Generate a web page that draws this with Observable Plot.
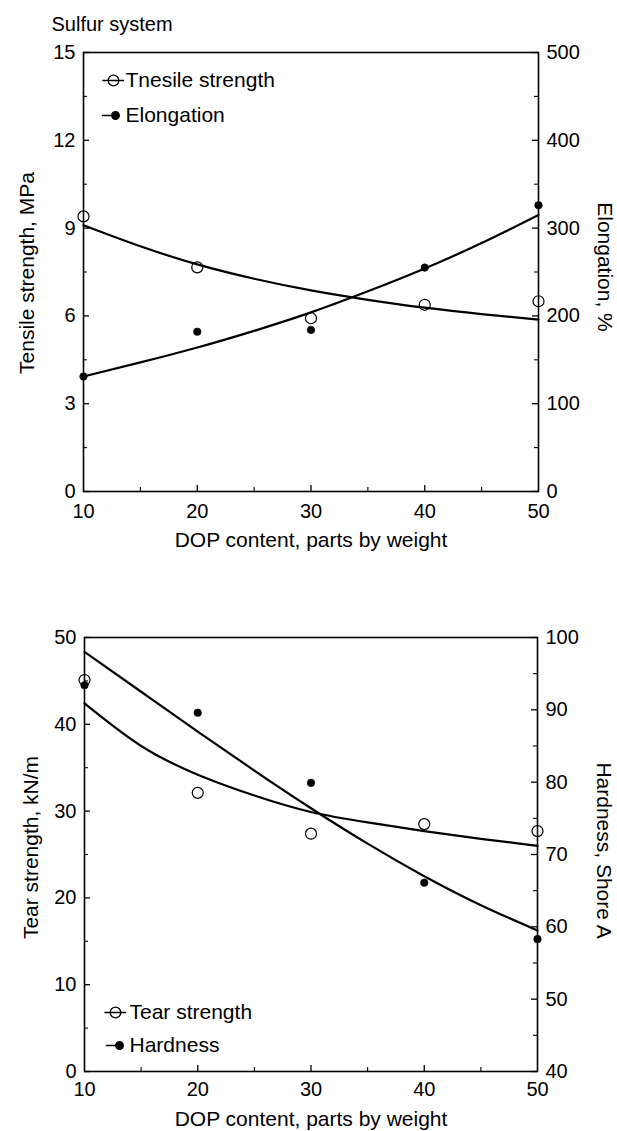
<!DOCTYPE html>
<html><head><meta charset="utf-8">
<script src="https://cdn.jsdelivr.net/npm/d3@7"></script>
<script src="https://cdn.jsdelivr.net/npm/@observablehq/plot@0.6"></script>
<style>body{margin:0;background:#fff}#c svg{display:block}</style>
</head><body><div id="c"></div>
<script>
// ---- data ----
const dop = [10, 20, 30, 40, 50];
const fitX = [10, 15, 20, 25, 30, 35, 40, 45, 50];
// top panel (Sulfur system)
const tensile = [9.4, 7.66, 5.92, 6.38, 6.50];          // MPa
const elongation = [131, 182, 184, 255, 326];           // %
const tensileFit = [9.1, 8.38, 7.76, 7.27, 6.87, 6.55, 6.28, 6.06, 5.87];
const elongationFit = [131, 147, 164, 183, 204, 228, 254, 283, 315];
// bottom panel
const tear = [45.1, 32.1, 27.4, 28.5, 27.7];            // kN/m
const hardness = [93.4, 89.6, 79.9, 66.1, 58.3];        // Shore A
const tearFit = [42.4, 37.5, 34.2, 31.8, 29.9, 28.7, 27.7, 26.8, 26.0];
const hardnessFit = [98.0, 92.5, 87.0, 81.6, 76.4, 71.5, 67.0, 63.0, 59.5];
// ticks
const xTicks = [10, 20, 30, 40, 50];
const xMinor = [15, 25, 35, 45];
const tensileTicks = [0, 3, 6, 9, 12, 15];
const tensileMinor = [1.5, 4.5, 7.5, 10.5, 13.5];
const elongTicks = [0, 100, 200, 300, 400, 500];
const elongMinor = [50, 150, 250, 350, 450];
const tearTicks = [0, 10, 20, 30, 40, 50];
const tearMinor = [5, 15, 25, 35, 45];
const hardTicks = [40, 50, 60, 70, 80, 90, 100];
const hardMinor = [45, 55, 65, 75, 85, 95];
// texts
const titleTop = "Sulfur system";
const legendTop = ["Tnesile strength", "Elongation"];
const legendBottom = ["Tear strength", "Hardness"];
const xLabel = "DOP content, parts by weight";

const FONT = "'Liberation Sans', Arial, Helvetica, sans-serif";
const W = 617;

const openSym = {draw(ctx, size) {
  const r = Math.sqrt(size / Math.PI);
  ctx.moveTo(-2.1 * r, 0); ctx.lineTo(2.0 * r, 0);
  ctx.moveTo(r, 0); ctx.arc(0, 0, r, 0, 2 * Math.PI);
}};
const fillSym = {draw(ctx, size) {
  const r = Math.sqrt(size / Math.PI);
  ctx.moveTo(-3.6 * r, 0); ctx.lineTo(r, 0);
  ctx.moveTo(r, 0); ctx.arc(0, 0, r, 0, 2 * Math.PI);
}};

function panel({height, mt, mb, ml, mr, yDomain, leftTicks, leftMinor, rightTicks, rightMinor, toLeft, fromLeft,
                open, filled, openFit, filledFit, yLabel, rLabel, legend, legendTopSide, title,
                yLabelDx, yLabelDy, rLabelDy, xLabelDy, xPad}) {
  const fw = W - ml - mr;
  const fh = height - mt - mb;
  const la = legendTopSide ? "top-left" : "bottom-left";
  const marks = [
    Plot.frame({stroke: "black", strokeWidth: 1.6}),
    // inward ticks
    Plot.tickY(leftTicks, {y: d => d, insetRight: fw - 6, strokeWidth: 1.3}),
    Plot.tickY(leftMinor, {y: d => d, insetRight: fw - 4, strokeWidth: 1.1}),
    Plot.tickY(rightTicks, {y: d => toLeft(d), insetLeft: fw - 6, strokeWidth: 1.3}),
    Plot.tickY(rightMinor, {y: d => toLeft(d), insetLeft: fw - 4, strokeWidth: 1.1}),
    Plot.tickX(xTicks.slice(1, -1), {x: d => d, insetTop: fh - 6, strokeWidth: 1.3}),
    Plot.tickX(xMinor, {x: d => d, insetTop: fh - 4, strokeWidth: 1.1}),
    // axes labels
    Plot.axisX(xTicks, {anchor: "bottom", tickSize: 0, tickPadding: xPad, label: null}),
    Plot.axisY(leftTicks, {anchor: "left", tickSize: 0, tickPadding: 8, label: null}),
    Plot.axisY(rightTicks.map(toLeft), {anchor: "right", tickSize: 0, tickPadding: 8, label: null,
      tickFormat: d => String(Math.round(fromLeft(d)))}),
    // fitted curves
    Plot.line(openFit, {x: fitX, y: d => d, curve: "natural", strokeWidth: 2.2}),
    Plot.line(filledFit, {x: fitX, y: d => toLeft(d), curve: "natural", strokeWidth: 2.2}),
    // data points
    Plot.dot(open, {x: dop, y: d => d, r: 5.5, stroke: "black", fill: "none", strokeWidth: 1.2}),
    Plot.dot(filled, {x: dop, y: d => toLeft(d), r: 3.8, fill: "black", stroke: "black", strokeWidth: 0.5}),
    // axis titles
    Plot.text([yLabel], {frameAnchor: "left", textAnchor: "middle", lineAnchor: "middle",
      dx: yLabelDx, dy: yLabelDy, rotate: -90, fontSize: 21}),
    Plot.text([rLabel], {frameAnchor: "right", textAnchor: "middle", lineAnchor: "middle",
      dx: 66, dy: rLabelDy, rotate: 90, fontSize: 21}),
    Plot.text([xLabel], {frameAnchor: "bottom", textAnchor: "middle", lineAnchor: "middle",
      dy: xLabelDy, fontSize: 21}),
    // legend
    Plot.dot([legend[0]], {frameAnchor: la, dx: legendTopSide ? 30 : 31,
      dy: legendTopSide ? 28 : -59, symbol: openSym, r: 5.3, stroke: "black", fill: "none", strokeWidth: 1.3}),
    Plot.dot([legend[1]], {frameAnchor: la, dx: legendTopSide ? 32 : 35,
      dy: legendTopSide ? 63 : -26, symbol: fillSym, r: 3.8, stroke: "black", fill: "black", strokeWidth: 1.3}),
    Plot.text([legend[0]], {frameAnchor: la, dx: legendTopSide ? 42 : 45,
      dy: legendTopSide ? 28 : -59, textAnchor: "start", lineAnchor: "middle", fontSize: 21}),
    Plot.text([legend[1]], {frameAnchor: la, dx: legendTopSide ? 42 : 45,
      dy: legendTopSide ? 63 : -26, textAnchor: "start", lineAnchor: "middle", fontSize: 21})
  ];
  if (title) marks.push(Plot.text([title], {frameAnchor: "top-left", dx: -32, dy: -28,
    textAnchor: "start", lineAnchor: "middle", fontSize: 20}));
  return Plot.plot({
    width: W, height, marginTop: mt, marginBottom: mb, marginLeft: ml, marginRight: mr,
    style: {fontFamily: FONT, fontSize: "20px", color: "black", background: "white"},
    x: {domain: [10, 50], label: null},
    y: {domain: yDomain, label: null},
    marks
  });
}

const c = document.getElementById("c");
c.append(panel({
  height: 575, mt: 52, mb: 84, ml: 83, mr: 79, yDomain: [0, 15],
  leftTicks: tensileTicks, leftMinor: tensileMinor, rightTicks: elongTicks, rightMinor: elongMinor,
  toLeft: v => v * 15 / 500, fromLeft: v => v * 500 / 15,
  open: tensile, filled: elongation, openFit: tensileFit, filledFit: elongationFit,
  yLabel: "Tensile strength, MPa", rLabel: "Elongation, %", legend: legendTop, legendTopSide: true,
  title: titleTop, yLabelDx: -56, yLabelDy: 1, rLabelDy: -5, xLabelDy: 49, xPad: 12
}));
c.append(panel({
  height: 556, mt: 62, mb: 60, ml: 84, mr: 80, yDomain: [0, 50],
  leftTicks: tearTicks, leftMinor: tearMinor, rightTicks: hardTicks, rightMinor: hardMinor,
  toLeft: h => (h - 40) * 50 / 60, fromLeft: v => v * 60 / 50 + 40,
  open: tear, filled: hardness, openFit: tearFit, filledFit: hardnessFit,
  yLabel: "Tear strength, kN/m", rLabel: "Hardness, Shore A", legend: legendBottom, legendTopSide: false,
  title: null, yLabelDx: -53, yLabelDy: -7, rLabelDy: -4, xLabelDy: 48, xPad: 10
}));
</script></body></html>
